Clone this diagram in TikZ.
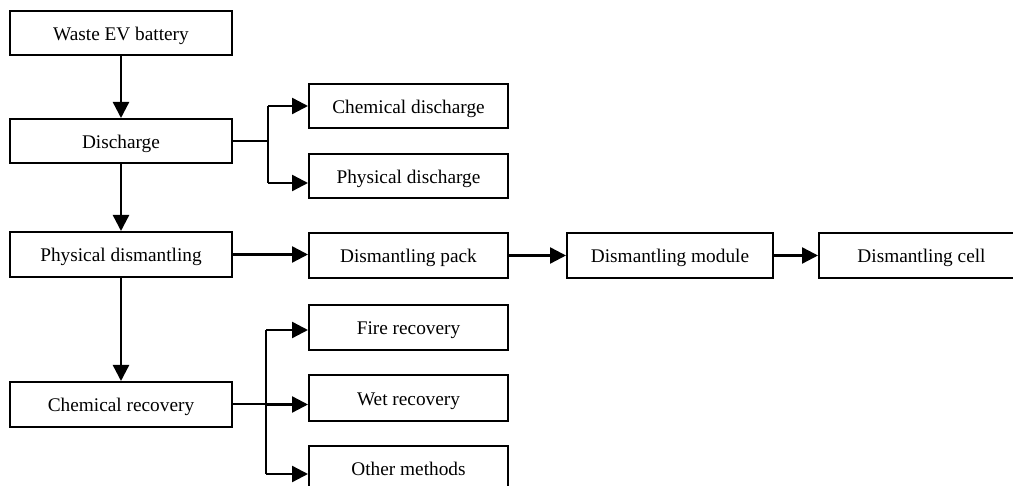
\documentclass[tikz,border=0pt]{standalone}
\usepackage{fontspec}
\setmainfont{Liberation Serif}
\usetikzlibrary{arrows.meta}
\begin{document}
\begin{tikzpicture}[x=1pt,y=-1pt,
  box/.style={draw,line width=2pt,inner sep=0pt,minimum width=222pt,minimum height=44pt,text height=14.5pt,text depth=0pt,font=\fontsize{19.3}{23}\selectfont},
  sbox/.style={box,minimum width=199pt},
  arr/.style={line width=2.4pt,-{Triangle[length=16pt,width=16pt]}},
  br/.style={line width=2pt}]
\useasboundingbox (0,0) rectangle (1013,486);
\clip (0,0) rectangle (1013,486);
\node[box] (waste) at (121,33) {Waste EV battery};
\node[box] (discharge) at (121,141) {Discharge};
\node[box,minimum height=45pt] (physdis) at (121,254.5) {Physical dismantling};
\node[box,minimum height=45pt] (chemrec) at (121,404.5) {Chemical recovery};
\node[sbox] (chemdis) at (408.5,106) {Chemical discharge};
\node[sbox] (physdisch) at (408.5,176) {Physical discharge};
\node[sbox,minimum height=45pt] (pack) at (408.5,255.5) {Dismantling pack};
\node[box,minimum width=206pt,minimum height=45pt] (module) at (670,255.5) {Dismantling module};
\node[box,minimum width=205pt,minimum height=45pt] (cell) at (921.5,255.5) {Dismantling cell};
\node[sbox,minimum height=45pt] (fire) at (408.5,327.5) {Fire recovery};
\node[sbox,minimum height=46pt] (wet) at (408.5,398) {Wet recovery};
\node[sbox,minimum height=45pt] (other) at (408.5,468.5) {Other methods};
\coordinate (dj1) at (268,106);
\coordinate (dj2) at (268,183);
\coordinate (cj1) at (266,330);
\coordinate (cj2) at (266,474);
\draw[arr] (waste) -- (discharge);
\draw[arr] (discharge) -- (physdis);
\draw[arr] (physdis) -- (chemrec);
\draw[br] (discharge.east) -- (discharge.east -| dj1);
\draw[br] (dj1) -- (dj2);
\draw[arr] (dj1) -- (chemdis.west);
\draw[arr] (dj2) -- (dj2 -| physdisch.west);
\draw[arr] (physdis.east) -- (physdis.east -| pack.west);
\draw[arr] (pack.east) -- (pack.east -| module.west);
\draw[arr] (module.east) -- (module.east -| cell.west);
\draw[br] (chemrec.east) -- (chemrec.east -| cj1);
\draw[br] (cj1) -- (cj2);
\draw[arr] (cj1) -- (cj1 -| fire.west);
\draw[arr] (chemrec.east -| cj1) -- (chemrec.east -| wet.west);
\draw[arr] (cj2) -- (cj2 -| other.west);
\end{tikzpicture}
\end{document}
